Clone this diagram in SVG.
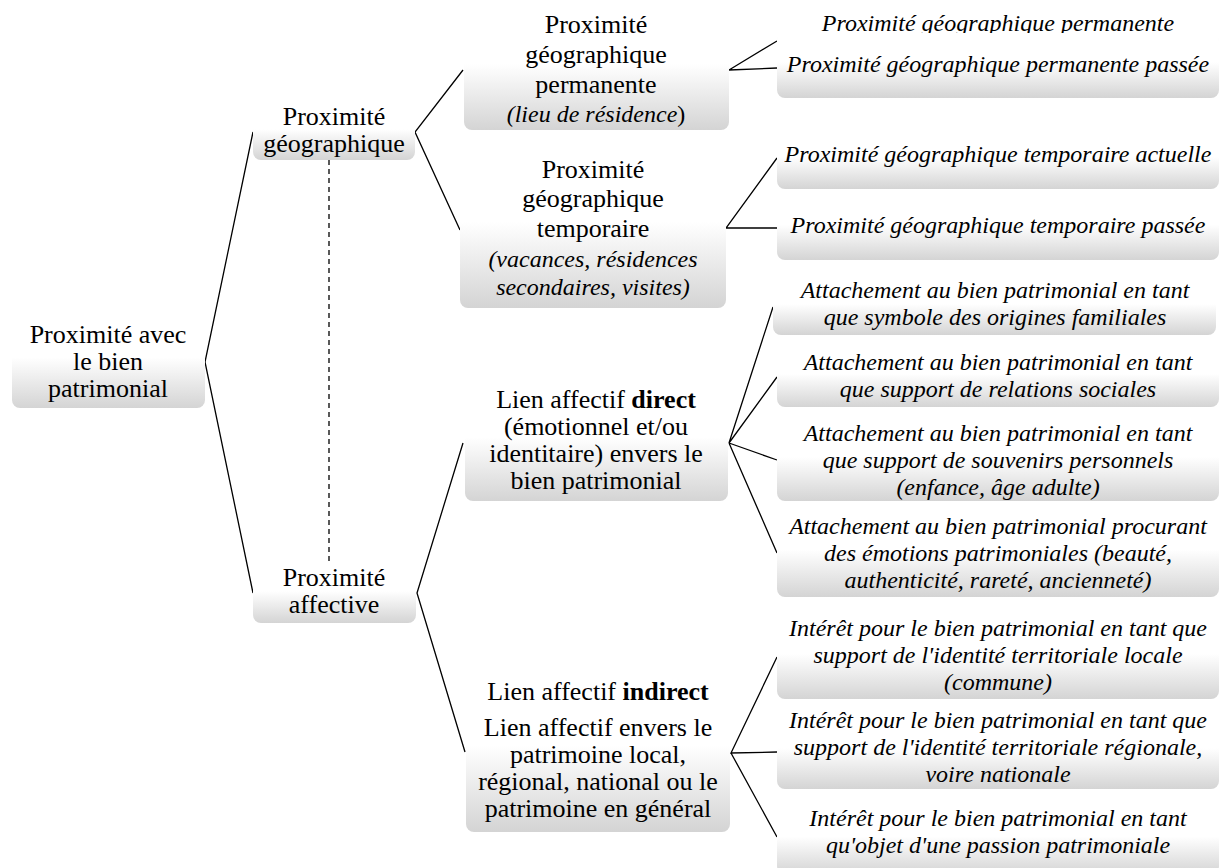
<svg xmlns="http://www.w3.org/2000/svg" width="1219" height="868" viewBox="0 0 1219 868">
<defs>
<linearGradient id="g" x1="0" y1="0" x2="0" y2="1">
<stop offset="0" stop-color="#ffffff"/>
<stop offset="0.45" stop-color="#ffffff"/>
<stop offset="1" stop-color="#d4d4d4"/>
</linearGradient>
</defs>
<style>
.box{fill:url(#g);stroke:none}
.t{font-family:"Liberation Serif","Times New Roman",serif;font-size:26px;fill:#000;text-anchor:middle}
.i{font-family:"Liberation Serif","Times New Roman",serif;font-size:24px;font-style:italic;fill:#000;text-anchor:middle}
.c{fill:none;stroke:#000;stroke-width:1.3}
</style>
<rect width="1219" height="868" fill="#ffffff"/>
<g id="connectors">
<path class="c" d="M253,132 L205,362 L253,593"/>
<path class="c" d="M463,70 L415,132 L460,230"/>
<path class="c" d="M777,41 L729,70 L777,68"/>
<path class="c" d="M777,158 L726,228 L777,228"/>
<path class="c" d="M463,443 L417,593 L465,752"/>
<path class="c" d="M773,307 L729,443 L777,377 M729,443 L777,460 M729,443 L777,553"/>
<path class="c" d="M777,657 L731,753 L777,752 M731,753 L777,837"/>
<line class="c" x1="329" y1="160" x2="329" y2="565" stroke-dasharray="5,4"/>
</g>
<g id="root">
<rect class="box" x="12" y="316" width="193" height="92" rx="8"/>
<text class="t" x="108" y="343">Proximité avec</text>
<text class="t" x="108" y="370">le bien</text>
<text class="t" x="108" y="397">patrimonial</text>
</g>
<g id="geo">
<rect class="box" x="253" y="104" width="162" height="56" rx="8"/>
<text class="t" x="334" y="125">Proximité</text>
<text class="t" x="334" y="152">géographique</text>
</g>
<g id="aff">
<rect class="box" x="253" y="565" width="163" height="58" rx="8"/>
<text class="t" x="334" y="586">Proximité</text>
<text class="t" x="334" y="613">affective</text>
</g>
<g id="perm">
<rect class="box" x="464" y="10" width="265" height="120" rx="8"/>
<text class="t" x="596" y="33">Proximité</text>
<text class="t" x="596" y="63">géographique</text>
<text class="t" x="596" y="93">permanente</text>
<text class="i" x="596" y="122">(lieu de résidence<tspan font-style="normal">)</tspan></text>
</g>
<g id="temp">
<rect class="box" x="460" y="152" width="266" height="156" rx="8"/>
<text class="t" x="593" y="178">Proximité</text>
<text class="t" x="593" y="207">géographique</text>
<text class="t" x="593" y="237">temporaire</text>
<text class="i" x="593" y="267">(vacances, résidences</text>
<text class="i" x="593" y="295">secondaires, visites)</text>
</g>
<g id="direct">
<rect class="box" x="465" y="385" width="263" height="116" rx="8"/>
<text class="t" x="596" y="408">Lien affectif <tspan font-weight="bold">direct</tspan></text>
<text class="t" x="596" y="435">(émotionnel et/ou</text>
<text class="t" x="596" y="462">identitaire) envers le</text>
<text class="t" x="596" y="489">bien patrimonial</text>
</g>
<g id="indirect">
<rect class="box" x="466" y="675" width="264" height="157" rx="8"/>
<text class="t" x="598" y="700">Lien affectif <tspan font-weight="bold">indirect</tspan></text>
<text class="t" x="598" y="736">Lien affectif envers le</text>
<text class="t" x="598" y="763">patrimoine local,</text>
<text class="t" x="598" y="790">régional, national ou le</text>
<text class="t" x="598" y="817">patrimoine en général</text>
</g>
<g id="leaf1">
<rect class="box" x="777" y="10" width="442" height="60" rx="8"/>
<text class="i" x="998" y="31">Proximité géographique permanente</text>
</g>
<g id="leaf2">
<rect class="box" x="777" y="33" width="442" height="65" rx="8"/>
<text class="i" x="998" y="72">Proximité géographique permanente passée</text>
</g>
<g id="leaf3">
<rect class="box" x="777" y="131" width="442" height="58" rx="8"/>
<text class="i" x="998" y="162">Proximité géographique temporaire actuelle</text>
</g>
<g id="leaf4">
<rect class="box" x="777" y="196" width="442" height="64" rx="8"/>
<text class="i" x="998" y="233">Proximité géographique temporaire passée</text>
</g>
<g id="att1">
<rect class="box" x="773" y="279" width="443" height="56" rx="8"/>
<text class="i" x="995" y="298">Attachement au bien patrimonial en tant</text>
<text class="i" x="995" y="325">que symbole des origines familiales</text>
</g>
<g id="att2">
<rect class="box" x="777" y="347" width="442" height="60" rx="8"/>
<text class="i" x="998" y="370">Attachement au bien patrimonial en tant</text>
<text class="i" x="998" y="397">que support de relations sociales</text>
</g>
<g id="att3">
<rect class="box" x="777" y="421" width="442" height="80" rx="8"/>
<text class="i" x="998" y="441">Attachement au bien patrimonial en tant</text>
<text class="i" x="998" y="468">que support de souvenirs personnels</text>
<text class="i" x="998" y="495">(enfance, âge adulte)</text>
</g>
<g id="att4">
<rect class="box" x="777" y="511" width="442" height="86" rx="8"/>
<text class="i" x="998" y="534">Attachement au bien patrimonial procurant</text>
<text class="i" x="998" y="561">des émotions patrimoniales (beauté,</text>
<text class="i" x="998" y="588">authenticité, rareté, ancienneté)</text>
</g>
<g id="int1">
<rect class="box" x="777" y="617" width="442" height="82" rx="8"/>
<text class="i" x="998" y="636">Intérêt pour le bien patrimonial en tant que</text>
<text class="i" x="998" y="663">support de l'identité territoriale locale</text>
<text class="i" x="998" y="690">(commune)</text>
</g>
<g id="int2">
<rect class="box" x="777" y="715" width="442" height="74" rx="8"/>
<text class="i" x="998" y="728">Intérêt pour le bien patrimonial en tant que</text>
<text class="i" x="998" y="755">support de l'identité territoriale régionale,</text>
<text class="i" x="998" y="782">voire nationale</text>
</g>
<g id="int3">
<rect class="box" x="777" y="806" width="442" height="68" rx="8"/>
<text class="i" x="998" y="826">Intérêt pour le bien patrimonial en tant</text>
<text class="i" x="998" y="853">qu'objet d'une passion patrimoniale</text>
</g>
</svg>
